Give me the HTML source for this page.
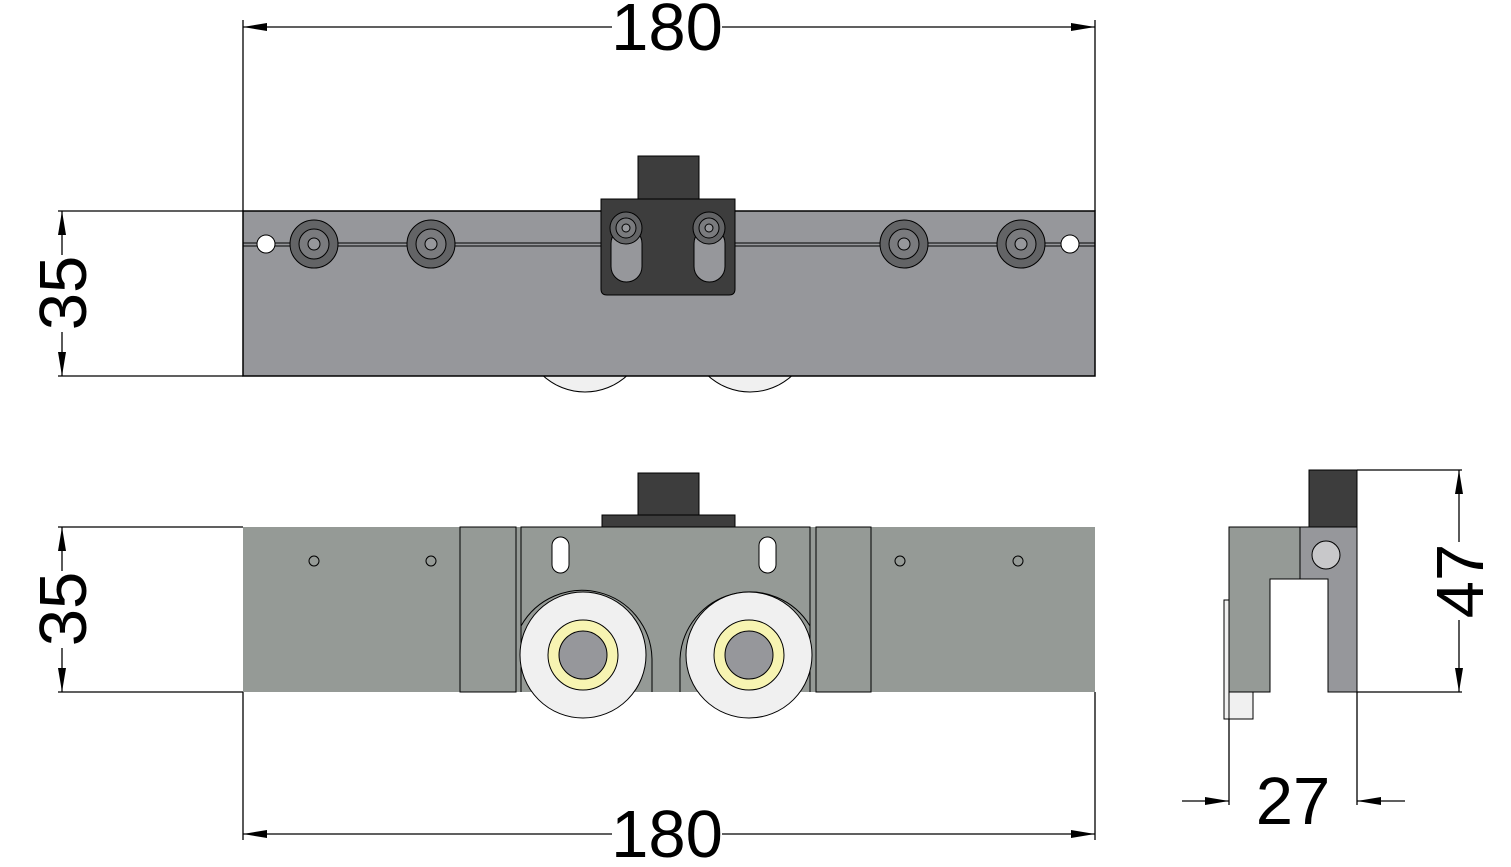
<!DOCTYPE html>
<html><head><meta charset="utf-8"><style>
html,body{margin:0;padding:0;background:#fff;}
svg{display:block;}
text{font-family:"Liberation Sans",sans-serif;font-size:67px;fill:#000;}
</style></head><body>
<svg width="1511" height="867" viewBox="0 0 1511 867" xmlns="http://www.w3.org/2000/svg">
<defs>
<marker id="a" viewBox="0 0 24 8" refX="24" refY="4" markerWidth="24" markerHeight="8" markerUnits="userSpaceOnUse" orient="auto"><path d="M0,0 L24,4 L0,8 z" fill="#000"/></marker>
</defs>
<g stroke="#000" stroke-width="1.3" fill="none">
<line x1="243" y1="20" x2="243" y2="211"/><line x1="1095" y1="20" x2="1095" y2="211"/>
<line x1="612" y1="27" x2="243" y2="27" marker-end="url(#a)"/>
<line x1="722" y1="27" x2="1095" y2="27" marker-end="url(#a)"/>
<line x1="58" y1="211" x2="243" y2="211"/><line x1="58" y1="376" x2="243" y2="376"/>
<line x1="62" y1="255" x2="62" y2="211" marker-end="url(#a)"/>
<line x1="62" y1="332" x2="62" y2="376" marker-end="url(#a)"/>
<line x1="58" y1="527" x2="243" y2="527"/><line x1="58" y1="692" x2="243" y2="692"/>
<line x1="62" y1="571" x2="62" y2="527" marker-end="url(#a)"/>
<line x1="62" y1="648" x2="62" y2="692" marker-end="url(#a)"/>
<line x1="243" y1="692" x2="243" y2="840"/><line x1="1095" y1="692" x2="1095" y2="840"/>
<line x1="612" y1="834" x2="243" y2="834" marker-end="url(#a)"/>
<line x1="722" y1="834" x2="1095" y2="834" marker-end="url(#a)"/>
<line x1="1357" y1="470" x2="1462" y2="470"/><line x1="1357" y1="692" x2="1462" y2="692"/>
<line x1="1459" y1="542" x2="1459" y2="470" marker-end="url(#a)"/>
<line x1="1459" y1="620" x2="1459" y2="692" marker-end="url(#a)"/>
<line x1="1229" y1="719" x2="1229" y2="805"/><line x1="1357" y1="692" x2="1357" y2="805"/>
<line x1="1182" y1="801" x2="1229" y2="801" marker-end="url(#a)"/>
<line x1="1405" y1="801" x2="1357" y2="801" marker-end="url(#a)"/>
</g>
<text x="667" y="50" text-anchor="middle">180</text>
<text x="667" y="857" text-anchor="middle">180</text>
<text transform="translate(86,293) rotate(-90)" text-anchor="middle">35</text>
<text transform="translate(86,609) rotate(-90)" text-anchor="middle">35</text>
<text transform="translate(1483,581) rotate(-90)" text-anchor="middle">47</text>
<text x="1293" y="824" text-anchor="middle">27</text>

<g stroke="#000" stroke-width="1">
<circle cx="585" cy="330" r="62" fill="#f0f0f0"/>
<circle cx="750" cy="330" r="62" fill="#f0f0f0"/>
<rect x="243" y="211" width="852" height="165" fill="#96979b" stroke-width="1.5"/>
<line x1="243" y1="243" x2="1095" y2="243"/><line x1="243" y1="246" x2="1095" y2="246"/>
<circle cx="266" cy="244" r="9" fill="#fff"/>
<circle cx="1070" cy="244" r="9" fill="#fff"/>
<g fill="#636466">
<circle cx="314" cy="244" r="24"/><circle cx="431" cy="244" r="24"/>
<circle cx="904" cy="244" r="24"/><circle cx="1021" cy="244" r="24"/>
</g>
<g fill="#7a7b7e">
<circle cx="314" cy="244" r="15"/><circle cx="431" cy="244" r="15"/>
<circle cx="904" cy="244" r="15"/><circle cx="1021" cy="244" r="15"/>
</g>
<g fill="#96979b">
<circle cx="314" cy="244" r="6"/><circle cx="431" cy="244" r="6"/>
<circle cx="904" cy="244" r="6"/><circle cx="1021" cy="244" r="6"/>
</g>
<rect x="638" y="156" width="61" height="44" fill="#3d3d3d"/>
<path d="M601,199 H735 V289 Q735,295 729,295 H607 Q601,295 601,289 Z" fill="#3d3d3d"/>
<rect x="611" y="228" width="31" height="54" rx="15.5" fill="#96979b"/>
<rect x="694" y="228" width="31" height="54" rx="15.5" fill="#96979b"/>
<circle cx="626" cy="228" r="16" fill="#636466"/><circle cx="709" cy="228" r="16" fill="#636466"/>
<circle cx="626" cy="228" r="10" fill="#7a7b7e"/><circle cx="709" cy="228" r="10" fill="#7a7b7e"/>
<circle cx="626" cy="228" r="4" fill="#96979b"/><circle cx="709" cy="228" r="4" fill="#96979b"/>
</g>

<g stroke="#000" stroke-width="1">
<rect x="638" y="473" width="61" height="43" fill="#3d3d3d"/>
<rect x="602" y="515" width="133" height="12" fill="#3d3d3d"/>
<rect x="243" y="527" width="852" height="165" fill="#959a96" stroke="none"/>
<rect x="460" y="527" width="56" height="165" fill="#959a96"/>
<rect x="816" y="527" width="55" height="165" fill="#959a96"/>
<path d="M521,692 V527 H810 V692" fill="#959a96"/>
<path d="M521,626 A70,70 0 0 1 652,659 V692" fill="none"/>
<path d="M680,692 V659 A70,70 0 0 1 810,626" fill="none"/>
<circle cx="583" cy="655" r="63" fill="#f0f0f0"/>
<circle cx="749" cy="655" r="63" fill="#f0f0f0"/>
<circle cx="583" cy="655" r="35" fill="#f7f4b2"/>
<circle cx="749" cy="655" r="35" fill="#f7f4b2"/>
<circle cx="583" cy="655" r="24" fill="#96979b"/>
<circle cx="749" cy="655" r="24" fill="#96979b"/>
<rect x="552" y="537" width="17" height="36" rx="8.5" fill="#fff"/>
<rect x="759" y="537" width="17" height="36" rx="8.5" fill="#fff"/>
<circle cx="314" cy="561" r="5" fill="none"/><circle cx="431" cy="561" r="5" fill="none"/>
<circle cx="900" cy="561" r="5" fill="none"/><circle cx="1018" cy="561" r="5" fill="none"/>
</g>

<g stroke="#000" stroke-width="1">
<rect x="1224" y="600" width="5" height="119" fill="#f0f0f0"/>
<rect x="1229" y="692" width="24" height="27" fill="#f0f0f0"/>
<rect x="1309" y="470" width="48" height="57" fill="#3d3d3d"/>
<path d="M1229,527 H1300 V579 H1270 V692 H1229 Z" fill="#959a96"/>
<path d="M1300,527 H1357 V692 H1328 V579 H1300 Z" fill="#96979b"/>
<circle cx="1326" cy="555" r="14" fill="#c8c8ca"/>
</g>
</svg>
</body></html>
